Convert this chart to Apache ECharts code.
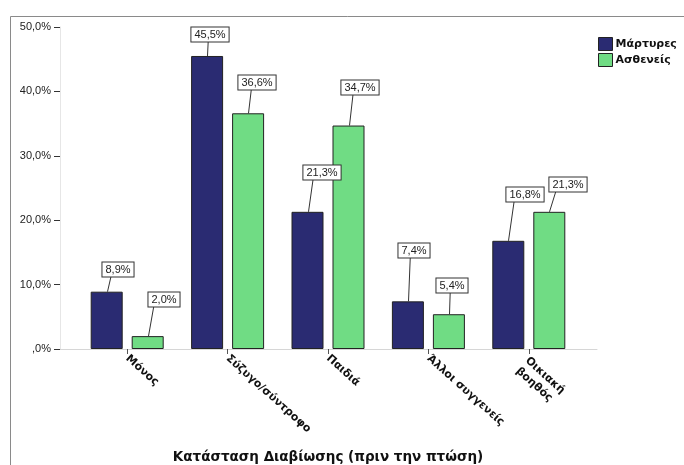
<!DOCTYPE html>
<html>
<head>
<meta charset="utf-8">
<script src="https://cdn.jsdelivr.net/npm/echarts@6/dist/echarts.min.js"></script>
<style>html,body{margin:0;padding:0;background:#fff;}#c{width:684px;height:465px;}</style>
</head>
<body>
<div id="c"></div>
<script>
const categories = ['Μόνος', 'Σύζυγο/σύντροφο', 'Παιδιά', 'Άλλοι συγγενείς', 'Οικιακή\nβοηθός'];
const seriesNames = ['Μάρτυρες', 'Ασθενείς'];
const witnesses = [8.9, 45.5, 21.3, 7.4, 16.8];
const patients = [2.0, 36.6, 34.7, 5.4, 21.3];
const yTickLabels = [',0%', '10,0%', '20,0%', '30,0%', '40,0%', '50,0%'];
const xTitle = 'Κατάσταση Διαβίωσης (πριν την πτώση)';

// label placement (layout only): gap above bar, horizontal shift of the box
const labelGap = [[16, 15, 33, 44, 40], [30, 24, 32, 22, 21]];
const labelShift = [[10, 2, 13, 5, 16], [15, 8, 10, 2, 18]];

const FONT = '"Liberation Sans", Arial, sans-serif';
const BOLDFONT = '"DejaVu Sans", Verdana, sans-serif';
const BAR_W = 32, BAR_GAP = 9;
const fmt = v => v.toFixed(1).replace('.', ',') + '%';

const chart = echarts.init(document.getElementById('c'), null, {renderer: 'canvas'});

function barSeries(name, data, color) {
  return {
    name, type: 'bar', data, xAxisIndex: 0, yAxisIndex: 0,
    barWidth: BAR_W, barGap: (BAR_GAP / BAR_W * 100) + '%',
    itemStyle: {color, borderColor: '#222', borderWidth: 1},
    emphasis: {disabled: true}
  };
}

function labelSeries(data, si) {
  const off = (si === 0 ? -1 : 1) * (BAR_W + BAR_GAP) / 2;
  return {
    type: 'custom', xAxisIndex: 0, yAxisIndex: 0, z: 5, silent: true,
    data: data.map((v, i) => [i, v]),
    renderItem: (params, api) => {
      const i = api.value(0), v = api.value(1);
      const p = api.coord([i, v]);
      const x = Math.round(p[0] + off) + 0.5, y = p[1];
      const gap = labelGap[si][i], sh = labelShift[si][i];
      const by = Math.round(y - gap) + 0.5;
      return {
        type: 'group', children: [
          {type: 'line', shape: {x1: x, y1: y, x2: x + sh * 0.35, y2: by},
           style: {stroke: '#333', lineWidth: 1}},
          {type: 'text', x: Math.round(x + sh), y: by,
           style: {text: fmt(v), align: 'center', verticalAlign: 'bottom',
             font: '11px ' + FONT, fill: '#222', backgroundColor: '#fff',
             borderColor: '#333', borderWidth: 1, padding: [2, 3, 1, 3]}}
        ]
      };
    }
  };
}

const xData = categories.map(c => c.indexOf('\n') >= 0
  ? {value: c, textStyle: {verticalAlign: 'top', padding: [-4, 0, 0, 0]}}
  : c);

chart.setOption({
  animation: false,
  backgroundColor: '#fff',
  textStyle: {fontFamily: FONT},
  graphic: [{
    type: 'rect', shape: {x: 10.5, y: 16.5, width: 800, height: 600},
    style: {fill: 'none', stroke: '#8a8a8a', lineWidth: 1}, silent: true, z: -10
  }],
  legend: {
    orient: 'vertical', left: 598, top: 37, padding: 0, itemWidth: 14, itemHeight: 13, itemGap: 2,
    icon: 'rect', data: seriesNames,
    itemStyle: {borderColor: '#222', borderWidth: 1},
    textStyle: {fontFamily: BOLDFONT, fontSize: 11, fontWeight: 'bold', color: '#111', padding: [0, 0, 0, -2]}
  },
  grid: [
    {left: 77, right: 105, top: 27, bottom: 116, outerBoundsMode: 'none', containLabel: false},
    {left: 60, right: 87, top: 27, bottom: 116, outerBoundsMode: 'none', containLabel: false}
  ],
  xAxis: [
    {
      type: 'category', gridIndex: 0, data: xData,
      axisLine: {show: false},
      axisTick: {show: true, alignWithLabel: true, length: 5, lineStyle: {color: '#555'}},
      axisLabel: {rotate: -42, interval: 0, margin: 8, fontFamily: BOLDFONT, fontSize: 11, fontWeight: 'bold', color: '#111', lineHeight: 14},
      name: xTitle, nameLocation: 'middle', nameGap: 101,
      nameTextStyle: {fontFamily: BOLDFONT, fontSize: 13.5, fontWeight: 'bold', color: '#111'}
    },
    {
      type: 'value', gridIndex: 1, min: 0, max: 1,
      axisLine: {show: true, lineStyle: {color: '#d6d6d6'}},
      axisTick: {show: false}, axisLabel: {show: false}, splitLine: {show: false}
    }
  ],
  yAxis: [
    {type: 'value', gridIndex: 0, min: 0, max: 50, interval: 10, show: false},
    {
      type: 'value', gridIndex: 1, min: 0, max: 50, interval: 10,
      axisLine: {show: true, lineStyle: {color: '#e6e6e6'}},
      axisTick: {show: true, length: 6, lineStyle: {color: '#333'}},
      axisLabel: {margin: 9, fontFamily: FONT, fontSize: 11, color: '#222',
        formatter: (v) => yTickLabels[Math.round(v / 10)]},
      splitLine: {show: false}
    }
  ],
  series: [
    barSeries(seriesNames[0], witnesses, '#2a2b72'),
    barSeries(seriesNames[1], patients, '#70dc84'),
    labelSeries(witnesses, 0),
    labelSeries(patients, 1)
  ]
});
</script>
</body>
</html>
